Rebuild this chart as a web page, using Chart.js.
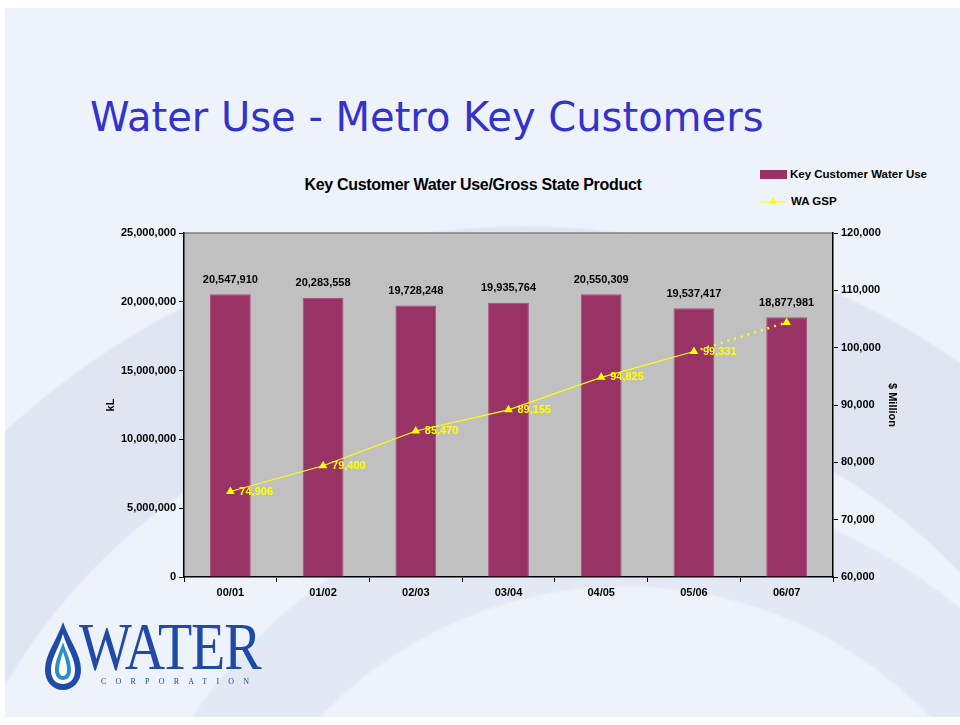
<!DOCTYPE html>
<html>
<head>
<meta charset="utf-8">
<script src="https://cdn.jsdelivr.net/npm/chart.js@4.4.1/dist/chart.umd.min.js"></script>
<style>
  html, body { margin: 0; padding: 0; background: #fff; }
  #slide {
    position: relative; width: 955px; height: 717px; left: 5px; top: 8px; overflow: hidden;
    background:
      radial-gradient(circle at 520px 980px, rgba(0,0,0,0) 600px, #dfe6f2 603px, #dfe6f2 760px, rgba(0,0,0,0) 763px),
      radial-gradient(circle at 620px 1000px, rgba(0,0,0,0) 420px, #e3e9f4 423px, #e3e9f4 520px, rgba(0,0,0,0) 523px),
      #eef2fa;
  }
  #wrap { position: absolute; left: -5px; top: -8px; width: 960px; height: 725px; }
  #title {
    position: absolute; left: 90px; top: 94px; margin: 0; font-weight: normal;
    font: 40px "DejaVu Sans", Verdana, sans-serif; color: #3333cc; white-space: nowrap;
  }
  #ctitle {
    position: absolute; left: 273px; top: 176px; width: 400px; text-align: center;
    font: bold 16px "Liberation Sans", Arial, sans-serif; color: #000; letter-spacing: -0.3px;
  }
  .leg { position: absolute; left: 760px; font: bold 11.5px "Liberation Sans", Arial, sans-serif; color: #000;
    display: flex; align-items: center; white-space: nowrap; }
  .sw { width: 27px; height: 9px; background: #993366; margin-right: 3px; }
  #logo { position: absolute; left: 43px; top: 620px; }
  #logo .w { position: absolute; left: 36px; top: -6px; font: 56px "Liberation Serif", "Times New Roman", serif;
    color: #1f4aa8; letter-spacing: -1px; transform: scaleY(1.2); transform-origin: 0 50%; }
  #logo .c { position: absolute; left: 58px; top: 57px; font: 8px "Liberation Serif", serif; color: #1f4aa8;
    letter-spacing: 9.2px; white-space: nowrap; }
  canvas { position: absolute; left: 0; top: 0; }
</style>
</head>
<body>
<div id="slide">
<div id="wrap">
  <h1 id="title">Water Use - Metro Key Customers</h1>
  <div id="ctitle">Key Customer Water Use/Gross State Product</div>
  <div class="leg" style="top:168px"><div class="sw"></div>Key Customer Water Use</div>
  <div class="leg" style="top:195px">
    <svg width="29" height="12" style="margin-right:2px"><line x1="0" y1="7" x2="26" y2="7" stroke="#ffff00" stroke-width="1"/><polygon points="13,2 17,9 9,9" fill="#ffff00"/></svg>WA GSP
  </div>
  <div style="position:absolute;left:0;top:0;width:960px;height:725px">
    <canvas id="chart" width="960" height="725"></canvas>
  </div>
  <div id="logo">
    <svg width="40" height="72" viewBox="0 0 40 72">
      <path d="M20 2 C14 20 2 34 2 50 C2 62 10 70 20 70 C30 70 38 62 38 50 C38 34 26 20 20 2 Z" fill="#1f4aa8"/>
      <path d="M20 14 C16 28 8 38 8 50 C8 59 13 64 20 64 C27 64 32 59 32 50 C32 38 24 28 20 14 Z" fill="#fff"/>
      <path d="M20 22 C17 32 12 40 12 50 C12 56 15 60 20 60 C25 60 28 56 28 50 C28 40 23 32 20 22 Z" fill="#2a8fc8"/>
      <path d="M20 32 C18 38 16 44 16 50 C16 54 18 56 20 56 C22 56 24 54 24 50 C24 44 22 38 20 32 Z" fill="#fff"/>
    </svg>
    <div class="w">WATER</div>
    <div class="c">CORPORATION</div>
  </div>
</div>
</div>
<script>
const categories = ['00/01', '01/02', '02/03', '03/04', '04/05', '05/06', '06/07'];
const waterUse = [20547910, 20283558, 19728248, 19935764, 20550309, 19537417, 18877981];
const gsp = [74906, 79400, 85470, 89155, 94825, 99331, 104400];
const gspLabels = ['74,906', '79,400', '85,470', '89,155', '94,825', '99,331', ''];
const leftTicks = [0, 5000000, 10000000, 15000000, 20000000, 25000000];
const rightTicks = [60000, 70000, 80000, 90000, 100000, 110000, 120000];

const FONT = 'Liberation Sans, Arial, sans-serif';
const fmt = v => v.toLocaleString('en-US');

const plotBg = {
  id: 'plotBg',
  beforeDraw(chart) {
    const { ctx, chartArea: a } = chart;
    ctx.save();
    ctx.fillStyle = '#c0c0c0';
    ctx.fillRect(a.left, a.top, a.right - a.left, a.bottom - a.top);
    ctx.strokeStyle = '#808080';
    ctx.lineWidth = 1.5;
    ctx.beginPath();
    ctx.moveTo(a.left, a.top);
    ctx.lineTo(a.right, a.top);
    ctx.stroke();
    ctx.restore();
  }
};

const valueLabels = {
  id: 'valueLabels',
  afterDatasetsDraw(chart) {
    const ctx = chart.ctx;
    ctx.save();
    ctx.font = 'bold 11px ' + FONT;
    ctx.fillStyle = '#000';
    ctx.textAlign = 'center';
    ctx.textBaseline = 'bottom';
    chart.getDatasetMeta(0).data.forEach((el, i) => {
      ctx.fillText(fmt(waterUse[i]), el.x, el.y - 9);
    });
    ctx.fillStyle = '#ffff00';
    ctx.textAlign = 'left';
    ctx.textBaseline = 'middle';
    chart.getDatasetMeta(1).data.forEach((el, i) => {
      if (gspLabels[i]) ctx.fillText(gspLabels[i], el.x + 9, el.y);
    });
    ctx.restore();
  }
};

new Chart(document.getElementById('chart'), {
  data: {
    labels: categories,
    datasets: [
      {
        type: 'bar',
        label: 'Key Customer Water Use',
        data: waterUse,
        backgroundColor: '#993366',
        borderColor: '#a8507c',
        borderWidth: 1,
        barPercentage: 0.44,
        categoryPercentage: 1,
        yAxisID: 'y',
        order: 1
      },
      {
        type: 'line',
        label: 'WA GSP',
        data: gsp,
        borderColor: '#ffff00',
        backgroundColor: '#ffff00',
        borderWidth: 1.2,
        pointStyle: 'triangle',
        pointRadius: 5,
        pointBorderWidth: 0,
        tension: 0,
        segment: {
          borderDash: ctx => ctx.p1DataIndex === 6 ? [2, 5] : undefined,
          borderWidth: ctx => ctx.p1DataIndex === 6 ? 2.5 : 1.2
        },
        yAxisID: 'y1',
        order: 0
      }
    ]
  },
  options: {
    responsive: false,
    animation: false,
    layout: { padding: { left: 100, right: 57, top: 233, bottom: 123 } },
    plugins: { legend: { display: false }, title: { display: false }, tooltip: { enabled: false } },
    scales: {
      x: {
        afterFit: s => { s.height = 25; },
        grid: { display: true, drawOnChartArea: false, drawTicks: true, tickLength: 5, color: '#000', offset: true },
        border: { color: '#000', width: 1.5 },
        ticks: { color: '#000', font: { family: FONT, size: 11, weight: 'bold' }, padding: 4 }
      },
      y: {
        position: 'left',
        min: 0, max: 25000000,
        afterFit: s => { s.width = 84; },
        afterBuildTicks: s => { s.ticks = leftTicks.map(v => ({ value: v })); },
        grid: { display: true, drawOnChartArea: false, drawTicks: true, tickLength: 5, color: '#000' },
        border: { color: '#000', width: 1.5 },
        ticks: { color: '#000', font: { family: FONT, size: 11, weight: 'bold' }, padding: 3, callback: v => fmt(v) },
        title: { display: true, text: 'kL', color: '#000', font: { family: FONT, size: 11, weight: 'bold' }, padding: { top: 4, bottom: 0 } }
      },
      y1: {
        position: 'right',
        min: 60000, max: 120000,
        afterFit: s => { s.width = 70; },
        afterBuildTicks: s => { s.ticks = rightTicks.map(v => ({ value: v })); },
        grid: { display: true, drawOnChartArea: false, drawTicks: true, tickLength: 5, color: '#000' },
        border: { color: '#000', width: 1.5 },
        ticks: { color: '#000', font: { family: FONT, size: 11, weight: 'bold' }, padding: 3, callback: v => fmt(v) },
        title: { display: true, text: '$ Million', color: '#000', font: { family: FONT, size: 11, weight: 'bold' }, padding: { top: 4, bottom: 0 } }
      }
    }
  },
  plugins: [plotBg, valueLabels]
});
</script>
</body>
</html>
